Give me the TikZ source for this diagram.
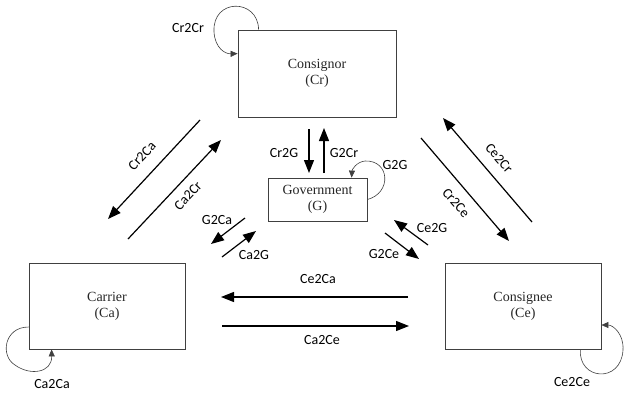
\documentclass[tikz,border=0pt]{standalone}
\usepackage{fontspec}
\setmainfont{Liberation Serif}
\newfontfamily\lblfont{Carlito}
\usetikzlibrary{arrows.meta, positioning}

\begin{document}
\begin{tikzpicture}[
    x=1pt, y=-1pt,
    party/.style={rectangle, draw=black!75, line width=0.8pt, minimum width=#1, align=center, text=black!85, font=\fontsize{14}{16}\selectfont},
    flow/.style={-{Triangle[length=13pt, width=10pt]}, line width=1.2pt},
    selfloop/.style={-{Triangle[length=7pt, width=6pt]}, line width=0.6pt, black!75},
    lbl/.style={font=\lblfont\fontsize{14}{16}\selectfont, inner sep=1pt}
]
\useasboundingbox (0,0) rectangle (624,400);

% Actors
\node[party=158pt, minimum height=87pt] (cr) at (317,73.5) {Consignor\\(Cr)};
\node[party=99pt, minimum height=43pt] (g) at (317.5,199.5) {Government\\(G)};
\node[party=156pt, minimum height=86pt] (ca) at (107,306) {Carrier\\(Ca)};
\node[party=156pt, minimum height=86pt] (ce) at (523,306) {Consignee\\(Ce)};

% Arrow end points
\coordinate (crca1) at (200,120);  \coordinate (crca2) at (108,219);
\coordinate (cacr1) at (128,239);  \coordinate (cacr2) at (221,140);
\coordinate (crg1) at (309,129);   \coordinate (crg2) at (309,173);
\coordinate (gcr1) at (324,173);   \coordinate (gcr2) at (324,128);
\coordinate (cecr1) at (532,222);  \coordinate (cecr2) at (443,118);
\coordinate (crce1) at (421,138);  \coordinate (crce2) at (509,241);
\coordinate (gca1) at (245,218);   \coordinate (gca2) at (211,244);
\coordinate (cag1) at (222,257);   \coordinate (cag2) at (256,231);
\coordinate (ceg1) at (428,245);   \coordinate (ceg2) at (394,220);
\coordinate (gce1) at (385,233);   \coordinate (gce2) at (419,259);
\coordinate (ceca1) at (408,297);  \coordinate (ceca2) at (221,297);
\coordinate (cace1) at (222,326);  \coordinate (cace2) at (409,326);

% Flows between actors
\draw[flow] (crca1) -- (crca2);
\draw[flow] (cacr1) -- (cacr2);
\draw[flow] (crg1) -- (crg2);
\draw[flow] (gcr1) -- (gcr2);
\draw[flow] (cecr1) -- (cecr2);
\draw[flow] (crce1) -- (crce2);
\draw[flow] (gca1) -- (gca2);
\draw[flow] (cag1) -- (cag2);
\draw[flow] (ceg1) -- (ceg2);
\draw[flow] (gce1) -- (gce2);
\draw[flow] (ceca1) -- (ceca2);
\draw[flow] (cace1) -- (cace2);

\node[lbl, rotate=47] (lcrca) at (142,156) {Cr2Ca};
\node[lbl, rotate=47] (lcacr) at (188,196) {Ca2Cr};
\node[lbl] (lcrg) at (284,153) {Cr2G};
\node[lbl] (lgcr) at (344,153) {G2Cr};
\node[lbl, rotate=-49] (lcecr) at (499,158) {Ce2Cr};
\node[lbl, rotate=-49] (lcrce) at (456,203) {Cr2Ce};
\node[lbl] (lgca) at (217,220) {G2Ca};
\node[lbl] (lcag) at (254,255) {Ca2G};
\node[lbl] (lceg) at (432,228) {Ce2G};
\node[lbl] (lgce) at (384,254) {G2Ce};
\node[lbl] (lceca) at (318,279) {Ce2Ca};
\node[lbl] (lcace) at (322,340) {Ca2Ce};

% Self loops
\draw[selfloop] ([xshift=21pt]cr.north west) .. controls (258,-2) and (212,-2) .. (214,32)
    .. controls (215,48) and (225,54) .. ([yshift=-24pt]cr.north west);
\draw[selfloop] (g.east) .. controls (392,193) and (390,160) .. (365,161)
    .. controls (356,162) and (352,170) .. ([xshift=84pt]g.north west);
\draw[selfloop] ([yshift=-21pt]ca.west) .. controls (4,327) and (0,356) .. (15,365)
    .. controls (30,376) and (52,373) .. ([xshift=23pt]ca.south west);
\draw[selfloop] ([xshift=-21pt]ce.south east) .. controls (578,380) and (621,384) .. (623,350)
    .. controls (624,334) and (613,325) .. ([yshift=-19pt]ce.east);

\node[lbl] (lcrcr) at (188,28) {Cr2Cr};
\node[lbl] (lgg) at (395,165) {G2G};
\node[lbl] (lcaca) at (52,384) {Ca2Ca};
\node[lbl] (lcece) at (572,382) {Ce2Ce};

\end{tikzpicture}
\end{document}
